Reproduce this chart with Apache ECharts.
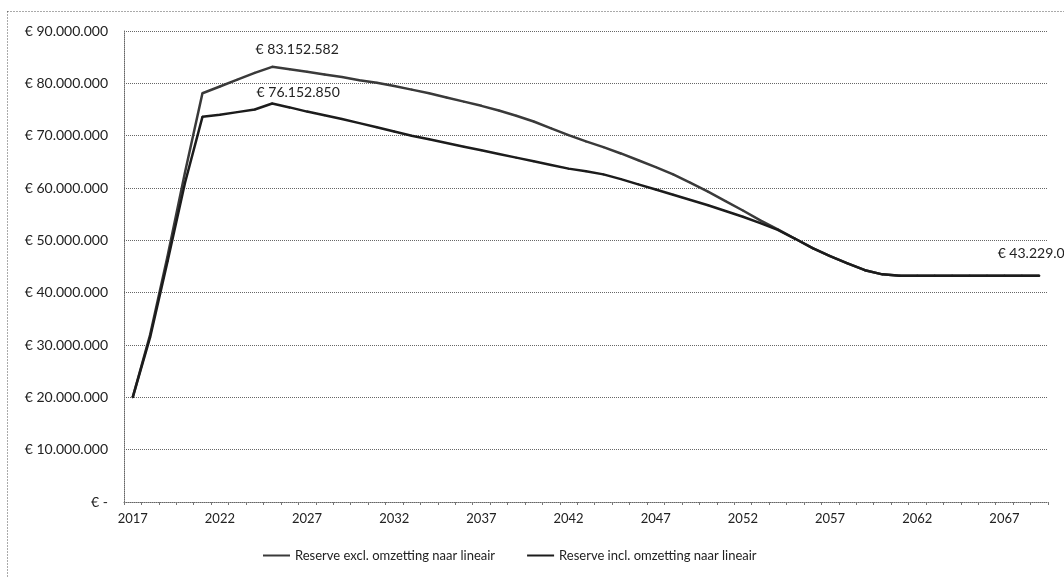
<!DOCTYPE html>
<html>
<head>
<meta charset="utf-8">
<script src="https://cdn.jsdelivr.net/npm/echarts@6/dist/echarts.min.js"></script>
<style>
html,body{margin:0;padding:0;background:#fff;}
#c{width:1064px;height:577px;}
</style>
</head>
<body>
<div id="c"></div>
<script>
const years = [];
for (let y = 2017; y <= 2069; y++) years.push(String(y));

const seriesNames = ['Reserve excl. omzetting naar lineair', 'Reserve incl. omzetting naar lineair'];

// values in millions of euro
const reserveExcl = [
  20.0, 32.0, 47.0, 63.0, 78.1, 79.4, 80.7, 82.0, 83.152582, 82.7,
  82.2, 81.7, 81.2, 80.6, 80.1, 79.5, 78.8, 78.1, 77.3, 76.5,
  75.7, 74.8, 73.8, 72.7, 71.4, 70.1, 68.9, 67.8, 66.6, 65.3,
  64.0, 62.6, 61.0, 59.3, 57.5, 55.7, 53.8, 52.1, 50.3, 48.5,
  47.0, 45.6, 44.3, 43.5, 43.229041, 43.229041, 43.229041, 43.229041, 43.229041, 43.229041,
  43.229041, 43.229041, 43.229041
];
const reserveIncl = [
  20.0, 31.5, 46.0, 61.0, 73.6, 74.0, 74.5, 75.0, 76.15285, 75.4,
  74.6, 73.9, 73.2, 72.4, 71.6, 70.8, 70.0, 69.3, 68.6, 67.9,
  67.2, 66.5, 65.8, 65.1, 64.4, 63.7, 63.2, 62.6, 61.7, 60.7,
  59.7, 58.7, 57.7, 56.7, 55.6, 54.5, 53.3, 52.0, 50.3, 48.5,
  47.0, 45.6, 44.3, 43.5, 43.229041, 43.229041, 43.229041, 43.229041, 43.229041, 43.229041,
  43.229041, 43.229041, 43.229041
];

const yTicks = [0, 10, 20, 30, 40, 50, 60, 70, 80, 90]; // millions

function euro(v) {
  if (Math.round(v) === 0) return '€ -';
  const s = String(Math.round(v));
  return '€ ' + s.replace(/\B(?=(\d{3})+(?!\d))/g, '.');
}

const peakExcl = reserveExcl.indexOf(Math.max(...reserveExcl));
const peakIncl = reserveIncl.indexOf(Math.max(...reserveIncl));
const lastIdx = years.length - 1;

function buildData(arr, labels) {
  return arr.map((v, i) => {
    const item = { value: v * 1e6 };
    if (labels[i]) item.label = Object.assign({ show: true }, labels[i]);
    return item;
  });
}

const labelFont = { fontFamily: 'Lato', fontSize: 14, color: '#222' };
const fmt = p => euro(p.value);

const chart = echarts.init(document.getElementById('c'), null, { renderer: 'canvas' });
chart.setOption({
  animation: false,
  backgroundColor: '#fff',
  textStyle: { fontFamily: 'Lato' },
  graphic: [{
    type: 'rect',
    shape: { x: 7.5, y: 11.5, width: 1100, height: 600 },
    style: { fill: 'none', stroke: '#555', lineWidth: 1, lineDash: [1, 2] },
    silent: true, z: -1
  }],
  grid: { left: 124, right: 16, top: 31, bottom: 75 },
  legend: {
    bottom: 10, left: 258,
    icon: 'rect', itemWidth: 27, itemHeight: 2, itemGap: 32,
    textStyle: { fontFamily: 'Lato', fontSize: 13, color: '#222' },
    data: seriesNames
  },
  xAxis: {
    type: 'category', data: years, boundaryGap: true,
    axisLine: { lineStyle: { color: '#666', type: 'dotted', width: 1 } },
    axisTick: { show: true, interval: 0, length: 3, lineStyle: { color: '#777' } },
    axisLabel: { interval: 4, fontFamily: 'Lato', fontSize: 13, color: '#222', margin: 10 },
    splitLine: { show: false }
  },
  yAxis: {
    type: 'value', min: 0, max: 90e6, interval: 10e6,
    axisLine: { show: true, lineStyle: { color: '#666', type: 'dotted', width: 1 } },
    axisTick: { show: false },
    axisLabel: { fontFamily: 'Lato', fontSize: 14, color: '#222', margin: 16, formatter: v => euro(v) },
    splitLine: { show: true, lineStyle: { color: '#666', type: 'dotted', width: 1 } }
  },
  series: [
    {
      name: seriesNames[0], type: 'line', smooth: false,
      data: buildData(reserveExcl, {
        [peakExcl]: Object.assign({ position: 'top', distance: 9, offset: [25, 0], formatter: fmt }, labelFont),
        [lastIdx]: Object.assign({ position: 'top', distance: 14, formatter: fmt }, labelFont)
      }),
      showSymbol: true, showAllSymbol: true, symbol: 'circle', symbolSize: 2,
      itemStyle: { color: '#3a3a3a' },
      lineStyle: { color: '#3a3a3a', width: 2.5 },
      z: 3
    },
    {
      name: seriesNames[1], type: 'line', smooth: false,
      data: buildData(reserveIncl, {
        [peakIncl]: Object.assign({ position: 'top', distance: 3, offset: [26, 0], formatter: fmt }, labelFont)
      }),
      showSymbol: true, showAllSymbol: true, symbol: 'circle', symbolSize: 2,
      itemStyle: { color: '#1c1c1c' },
      lineStyle: { color: '#1c1c1c', width: 2.5 },
      z: 4
    }
  ]
});
</script>
</body>
</html>
